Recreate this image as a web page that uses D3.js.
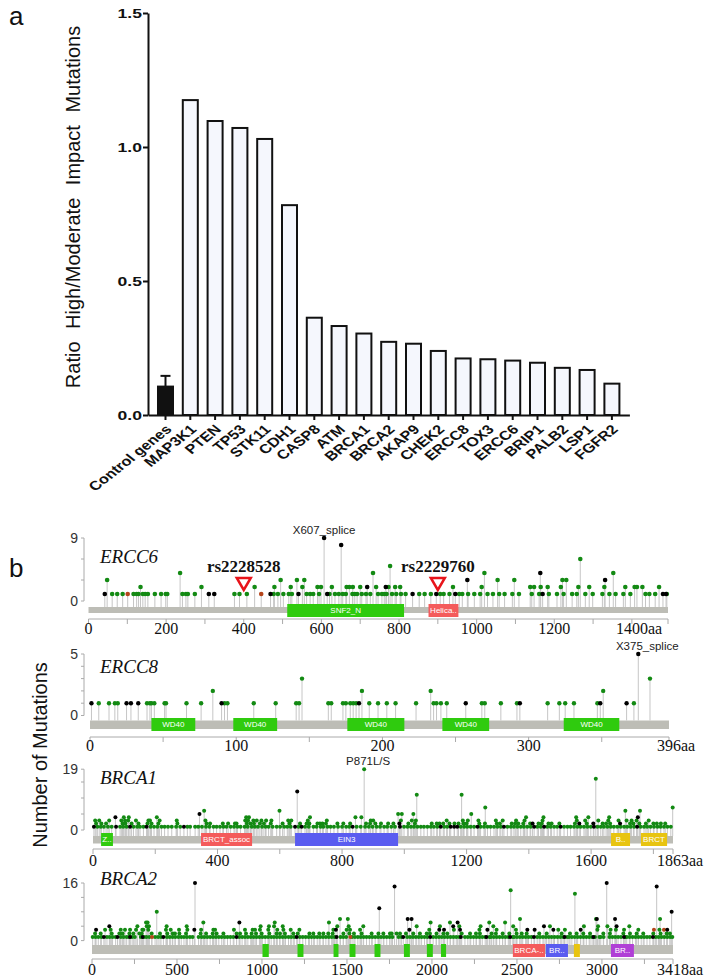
<!DOCTYPE html>
<html><head><meta charset="utf-8">
<script src="https://cdn.jsdelivr.net/npm/d3@7"></script>
<style>body{margin:0;background:#fff}svg{display:block}</style>
</head><body>
<svg id="c" width="708" height="979"></svg>
<script>
// ---------------- DATA: panel a ----------------
const barGenes = ["Control genes","MAP3K1","PTEN","TP53","STK11","CDH1","CASP8","ATM","BRCA1","BRCA2","AKAP9","CHEK2","ERCC8","TOX3","ERCC6","BRIP1","PALB2","LSP1","FGFR2"];
const barValues = [0.106,1.175,1.097,1.071,1.030,0.783,0.363,0.332,0.304,0.273,0.266,0.239,0.211,0.208,0.203,0.195,0.176,0.168,0.117];
const controlUpper = 0.146;
const barYTicks = [0,0.5,1.0,1.5];

// ---------------- DATA: panel b ----------------
const ERCC6_missense = [[48,3],[61,1],[74,1],[88,1],[116,1],[124,1],[129,1],[134,2],[140,1],[146,1],[153,1],[171,1],[187,1],[199,1],[203,1],[236,4],[242,1],[251,1],[256,1],[274,1],[291,2],[376,1],[389,1],[408,1],[428,2],[477,1],[479,2],[488,1],[495,3],[502,1],[516,1],[521,2],[524,1],[537,3],[551,2],[556,3],[562,1],[571,1],[579,1],[590,2],[594,1],[599,2],[621,1],[627,2],[635,1],[645,1],[655,1],[663,1],[665,2],[672,2],[680,1],[681,2],[686,1],[692,1],[700,2],[704,1],[715,1],[726,1],[733,4],[741,2],[746,1],[756,1],[762,1],[768,1],[773,2],[777,5],[782,1],[790,2],[793,1],[803,2],[805,1],[817,1],[852,1],[866,1],[882,1],[906,1],[915,1],[930,1],[939,2],[955,1],[963,1],[978,1],[994,1],[1009,1],[1013,2],[1020,4],[1028,1],[1042,1],[1054,3],[1058,1],[1072,1],[1092,1],[1097,3],[1109,1],[1138,2],[1142,1],[1148,2],[1161,1],[1165,2],[1183,2],[1186,1],[1207,1],[1217,2],[1221,3],[1224,1],[1231,3],[1246,1],[1258,1],[1262,2],[1267,6],[1280,1],[1290,2],[1299,1],[1324,1],[1329,2],[1342,1],[1352,4],[1358,1],[1378,1],[1383,2],[1396,1],[1407,2],[1413,2],[1427,2],[1435,1],[1445,1],[1460,1],[1470,2],[1490,1]];
const ERCC6_truncating = [[42,1],[310,1],[324,1],[469,1],[541,1],[607,9],[615,1],[651,8],[718,2],[766,2],[835,1],[896,1],[945,1],[976,3],[1164,4],[1170,1],[1331,3],[1480,1],[1488,1]];
const ERCC6_other = [[101,1],[445,1]];
const ERCC6_domains = [["SNF2_N",512,813,"g"],["Helica..",876,953,"r"]];
const ERCC6_xLabels = [0,200,400,600,800,1000,1200,1400];
const ERCC6_xMinor = [100,300,500,700,900,1100,1300,1493];

const ERCC8_missense = [[6,1],[13,1],[17,1],[19,1],[39,1],[41,1],[42,1],[44,1],[51,1],[52,1],[66,1],[76,1],[84,2],[92,1],[94,1],[112,1],[127,1],[141,1],[143,1],[145,3],[163,1],[165,1],[173,1],[175,1],[178,1],[180,1],[182,1],[186,2],[191,1],[197,1],[203,1],[209,1],[223,1],[233,2],[235,1],[237,1],[240,1],[244,1],[268,1],[270,1],[281,1],[292,1],[313,1],[321,1],[325,1],[331,1],[347,1],[351,2],[372,1],[383,3]];
const ERCC8_truncating = [[1,1],[25,1],[28,1],[33,1],[90,1],[184,1],[257,1],[294,1],[349,1],[367,1],[375,5]];
const ERCC8_domains = [["WD40",42,72,"g"],["WD40",98,128,"g"],["WD40",176,215,"g"],["WD40",241,273,"g"],["WD40",324,362,"g"]];
const ERCC8_xLabels = [0,100,200,300,396];
const ERCC8_xMinor = [50,150,250,350];

const BRCA1_missense = [[14,1],[25,1],[35,1],[48,1],[60,1],[87,1],[97,1],[108,1],[130,1],[142,1],[151,1],[162,1],[185,1],[196,1],[207,1],[220,1],[230,1],[241,1],[253,1],[267,1],[280,1],[303,1],[312,1],[328,1],[338,1],[350,1],[363,1],[374,1],[387,1],[397,1],[408,1],[419,1],[429,1],[442,1],[453,1],[464,1],[474,1],[487,1],[497,1],[510,1],[520,1],[530,1],[543,1],[554,1],[564,1],[577,1],[590,1],[601,1],[614,1],[624,1],[635,1],[660,1],[681,1],[693,1],[708,1],[718,1],[731,1],[740,1],[753,1],[763,1],[774,1],[787,1],[800,1],[813,1],[823,1],[847,1],[860,1],[874,1],[886,1],[898,1],[911,1],[922,1],[935,1],[945,1],[958,1],[970,1],[999,1],[1010,1],[1021,1],[1031,1],[1042,1],[1053,1],[1063,1],[1074,1],[1085,1],[1095,1],[1106,1],[1128,1],[1138,1],[1181,1],[1192,1],[1202,1],[1213,1],[1224,1],[1245,1],[1256,1],[1267,1],[1277,1],[1288,1],[1299,1],[1310,1],[1331,1],[1342,1],[1352,1],[1363,1],[1374,1],[1384,1],[1395,1],[1406,1],[1427,1],[1438,1],[1459,1],[1470,1],[1481,1],[1491,1],[1513,1],[1524,1],[1534,1],[1545,1],[1556,1],[1566,1],[1577,1],[1588,1],[1599,1],[1620,1],[1631,1],[1641,1],[1652,1],[1663,1],[1673,1],[1684,1],[1695,1],[1706,1],[1716,1],[1727,1],[1738,1],[1759,1],[1770,1],[1780,1],[1791,1],[1802,1],[1813,1],[1823,1],[1834,1],[1845,1],[1856,1],
[10,2],[27,2],[42,2],[95,2],[104,2],[124,2],[146,2],[175,2],[188,2],[210,2],[271,2],[365,2],[376,2],[417,2],[434,2],[456,2],[461,2],[494,2],[506,2],[517,2],[536,2],[549,2],[571,2],[609,2],[631,2],[665,2],[686,2],[695,2],[721,2],[729,2],[737,2],[748,2],[785,2],[804,2],[826,2],[877,2],[890,2],[907,2],[925,2],[948,2],[965,2],[1013,2],[1034,2],[1088,2],[1104,2],[1113,2],[1125,2],[1145,2],[1161,2],[1174,2],[1190,2],[1200,2],[1241,2],[1259,2],[1297,2],[1307,2],[1345,2],[1356,2],[1366,2],[1382,2],[1404,2],[1431,2],[1441,2],[1463,2],[1473,2],[1498,2],[1548,2],[1586,2],[1637,2],[1648,2],[1661,2],[1725,2],[1736,2],[1755,2],[1776,2],[1800,2],[1811,2],[1824,2],[1838,2],
[7,3],[20,3],[52,3],[91,3],[103,3],[113,3],[138,3],[178,3],[183,3],[214,3],[269,3],[361,3],[489,3],[498,3],[515,3],[526,3],[541,3],[556,3],[573,3],[627,3],[637,3],[690,3],[751,3],[892,3],[900,3],[989,3],[1024,3],[1037,3],[1136,3],[1188,3],[1204,3],[1238,3],[1294,3],[1316,3],[1359,3],[1386,3],[1444,3],[1554,3],[1581,3],[1623,3],[1655,3],[1688,3],[1714,3],[1730,3],[1746,3],[1785,3],
[99,4],[115,4],[205,4],[492,4],[501,4],[697,4],[843,4],[862,4],[1391,4],[1447,4],[1552,4],[1591,4],[1658,4],
[980,5],[992,5],[1029,5],[1215,5],[357,6],[599,6],[1710,6],[1757,6],[1260,7],[1862,7],[1040,11],[1184,11],[1615,16],[871,19]];
const BRCA1_truncating = [[3,1],[72,4],[74,1],[119,1],[172,1],[292,1],[342,5],[649,1],[656,12],[670,1],[834,1],[984,2],[986,1],[1117,1],[1149,1],[1160,1],[1170,1],[1235,1],[1320,1],[1412,2],[1417,1],[1449,1],[1502,1],[1562,2],[1607,2],[1609,1],[1693,2],[1748,1],[1750,4]];
const BRCA1_domains = [["Z..",26,64,"g"],["BRCT_assoc",347,511,"r"],["EIN3",649,980,"b"],["B..",1664,1725,"y"],["BRCT",1760,1844,"y"]];
const BRCA1_xLabels = [0,400,800,1200,1600,1863];
const BRCA1_xMinor = [200,600,1000,1400,1800];

const BRCA2_missense = [[4,1],[21,1],[37,1],[55,1],[88,1],[104,1],[121,1],[139,1],[170,1],[186,1],[204,1],[218,1],[236,1],[252,1],[287,1],[305,1],[320,1],[337,1],[371,1],[389,1],[406,1],[441,1],[457,1],[474,1],[490,1],[508,1],[525,1],[541,1],[558,1],[576,1],[592,1],[627,1],[645,1],[661,1],[678,1],[695,1],[712,1],[729,1],[746,1],[763,1],[781,1],[797,1],[814,1],[831,1],[866,1],[883,1],[900,1],[917,1],[934,1],[951,1],[968,1],[985,1],[1002,1],[1019,1],[1036,1],[1054,1],[1070,1],[1087,1],[1104,1],[1121,1],[1138,1],[1156,1],[1172,1],[1190,1],[1223,1],[1240,1],[1257,1],[1274,1],[1291,1],[1308,1],[1325,1],[1342,1],[1359,1],[1376,1],[1393,1],[1410,1],[1427,1],[1462,1],[1478,1],[1495,1],[1530,1],[1547,1],[1564,1],[1581,1],[1598,1],[1615,1],[1632,1],[1649,1],[1666,1],[1683,1],[1700,1],[1717,1],[1734,1],[1751,1],[1768,1],[1803,1],[1820,1],[1854,1],[1871,1],[1888,1],[1905,1],[1922,1],[1939,1],[1956,1],[1973,1],[2007,1],[2024,1],[2041,1],[2058,1],[2075,1],[2092,1],[2109,1],[2126,1],[2143,1],[2160,1],[2194,1],[2211,1],[2228,1],[2245,1],[2262,1],[2279,1],[2296,1],[2313,1],[2338,1],[2347,1],[2364,1],[2381,1],[2398,1],[2415,1],[2432,1],[2449,1],[2476,1],[2483,1],[2500,1],[2517,1],[2534,1],[2551,1],[2568,1],[2585,1],[2619,1],[2636,1],[2653,1],[2670,1],[2687,1],[2704,1],[2721,1],[2738,1],[2755,1],[2772,1],[2795,1],[2806,1],[2823,1],[2840,1],[2857,1],[2874,1],[2891,1],[2908,1],[2925,1],[2942,1],[2959,1],[2985,1],[2993,1],[3010,1],[3044,1],[3061,1],[3078,1],[3095,1],[3112,1],[3140,1],[3146,1],[3163,1],[3180,1],[3197,1],[3214,1],[3231,1],[3248,1],[3265,1],[3282,1],[3316,1],[3333,1],[3350,1],[3367,1],[3384,1],[3401,1],[3414,1],
[18,2],[51,2],[116,2],[161,2],[180,2],[220,2],[243,2],[279,2],[292,2],[351,2],[400,2],[443,2],[475,2],[488,2],[514,2],[553,2],[639,2],[671,2],[710,2],[733,2],[773,2],[851,2],[871,2],[906,2],[939,2],[965,2],[998,2],[1043,2],[1086,2],[1106,2],[1135,2],[1184,2],[1210,2],[1279,2],[1302,2],[1337,2],[1361,2],[1390,2],[1416,2],[1479,2],[1514,2],[1541,2],[1586,2],[1645,2],[1685,2],[1714,2],[1753,2],[1763,2],[1792,2],[1812,2],[1847,2],[1890,2],[1929,2],[1969,2],[1988,2],[2027,2],[2067,2],[2090,2],[2175,2],[2224,2],[2259,2],[2282,2],[2351,2],[2376,2],[2416,2],[2455,2],[2498,2],[2528,2],[2557,2],[2631,2],[2675,2],[2763,2],[2812,2],[2851,2],[2890,2],[2930,2],[3008,2],[3047,2],[3126,2],[3165,2],[3204,2],[3243,2],[3302,2],[3345,2],[3381,2],[3400,2],
[77,3],[110,3],[169,3],[194,3],[224,3],[259,3],[296,3],[302,3],[331,3],[435,3],[463,3],[512,3],[561,3],[642,3],[714,3],[724,3],[835,3],[900,3],[945,3],[959,3],[988,3],[1037,3],[1090,3],[1126,3],[1169,3],[1220,3],[1420,3],[1498,3],[1518,3],[1577,3],[1984,3],[2129,3],[2279,3],[2380,3],[2494,3],[2743,3],[2782,3],[2973,3],[3051,3],[3082,3],[3130,3],[3214,3],[3338,3],
[267,4],[322,4],[335,4],[439,4],[557,4],[992,4],[1041,4],[1071,4],[1122,4],[1443,4],[1510,4],[1596,4],[1910,4],[2047,4],[2161,4],[2286,4],[2361,4],[2478,4],[2694,4],[2894,4],[2977,4],[3032,4],[3161,4],
[318,5],[327,5],[655,5],[1075,5],[1394,5],[1992,5],[2106,5],[2337,5],[2430,5],
[1459,6],[1505,6],[2518,6],[2965,6],[3342,6],[381,8],[2841,13],[2463,14]];
const BRCA2_truncating = [[70,1],[150,1],[224,1],[298,1],[420,1],[850,1],[1204,1],[1439,1],[1831,1],[1990,1],[2170,1],[2320,1],[2460,1],[2600,1],[2780,1],[2950,1],[3130,1],[3300,1],
[24,3],[602,3],[1435,3],[1867,3],[2043,3],[2071,3],[2165,3],[2326,3],[2561,3],[2604,3],[2714,3],[2875,3],[3384,3],
[102,4],[2125,4],[2659,4],[3086,4],[867,5],[2151,5],[1857,6],[1880,6],[2970,6],[3077,6],[1690,9],[3410,8],[1780,15],[3322,15],[606,16],[3028,16]];
const BRCA2_other = [[353,1],[1520,1],[3306,3],[3365,3]];
const BRCA2_domains = [["",1003,1040,"g"],["",1209,1244,"g"],["",1421,1450,"g"],["",1515,1550,"g"],["",1662,1697,"g"],["",1835,1870,"g"],["",1970,2005,"g"],["",2053,2083,"g"],["BRCA-..",2476,2665,"r"],["BR..",2670,2800,"b"],["",2835,2870,"y"],["BR..",3053,3188,"p"]];
const BRCA2_xLabels = [0,500,1000,1500,2000,2500,3000,3418];
const BRCA2_xMinor = [250,750,1250,1750,2250,2750,3250];

// ---------------- STYLE ----------------
const SANS = "'Liberation Sans', Arial, Helvetica, sans-serif";
const SERIF = "'Liberation Serif', 'Times New Roman', serif";
const domColor = {g:"#2fcb0e", r:"#f45b5b", b:"#5a5cf0", y:"#e8c410", p:"#b03fd6"};
const mutColor = {m:"#138a13", t:"#000000", o:"#b5451b"};

const svg = d3.select("#c");

// ================= PANEL a =================
const xA = d3.scaleBand().domain(barGenes).range([148, 629.4]).paddingInner(0.395).paddingOuter(0.403);
const yA = d3.scaleLinear().domain([0, 1.5]).range([415, 13]);
const gA = svg.append("g");

gA.selectAll("rect.bar").data(barGenes).join("rect").attr("class","bar")
  .attr("x", d => xA(d)).attr("width", xA.bandwidth())
  .attr("y", (d,i) => yA(barValues[i])).attr("height", (d,i) => yA(0) - yA(barValues[i]))
  .attr("fill", (d,i) => i === 0 ? "#111" : "#f5f7fd").attr("stroke", "#111").attr("stroke-width", 2);

const cx0 = xA(barGenes[0]) + xA.bandwidth()/2;
gA.append("line").attr("x1", cx0).attr("x2", cx0).attr("y1", yA(barValues[0])).attr("y2", yA(controlUpper)).attr("stroke","#111").attr("stroke-width",2);
gA.append("line").attr("x1", cx0-5).attr("x2", cx0+5).attr("y1", yA(controlUpper)).attr("y2", yA(controlUpper)).attr("stroke","#111").attr("stroke-width",2);

const axLeft = gA.append("g").attr("transform","translate(148,0)")
  .call(d3.axisLeft(yA).tickValues(barYTicks).tickFormat(d3.format(".1f")).tickSize(5).tickSizeOuter(0));
axLeft.select(".domain").attr("stroke","#111").attr("stroke-width",2);
axLeft.selectAll(".tick line").attr("stroke","#111").attr("stroke-width",2);
axLeft.selectAll(".tick text").attr("x",0).attr("transform","translate(-6,0) scale(1.35,1)")
  .attr("font-family",SANS).attr("font-weight","bold").attr("font-size",13).attr("fill","#111");

const axBot = gA.append("g").attr("transform","translate(0,415)")
  .call(d3.axisBottom(xA).tickSize(5).tickSizeOuter(0));
axBot.select(".domain").attr("stroke","#111").attr("stroke-width",2);
axBot.selectAll(".tick line").attr("stroke","#111").attr("stroke-width",2);
axBot.selectAll(".tick text").attr("x",0).attr("y",0).attr("dy","0.35em").attr("text-anchor","end")
  .attr("transform","translate(3,12) scale(1.25,1) rotate(-45)")
  .attr("font-family",SANS).attr("font-weight","bold").attr("font-size",13).attr("fill","#111");

svg.append("text").attr("transform","translate(80,207) rotate(-90)").attr("text-anchor","middle")
  .attr("font-family",SANS).attr("font-size",20).attr("word-spacing",7).attr("fill","#111")
  .text("Ratio High/Moderate Impact Mutations");

svg.append("text").attr("x",9).attr("y",25).attr("font-family",SANS).attr("font-size",26).attr("fill","#111").text("a");
svg.append("text").attr("x",9).attr("y",577).attr("font-family",SANS).attr("font-size",26).attr("fill","#111").text("b");

svg.append("text").attr("transform","translate(47,755) rotate(-90)").attr("text-anchor","middle")
  .attr("font-family",SANS).attr("font-size",20).attr("fill","#111").text("Number of Mutations");

// ================= PANEL b =================
function drawPanel(p) {
  const g = svg.append("g");
  const x = d3.scaleLinear().domain([0, p.len]).range([p.x0, p.x1]);
  const y = d3.scaleLinear().domain([0, p.yMax]).range([p.base, p.base - p.k * p.yMax]);

  g.append("text").attr("x", 100).attr("y", p.nameY).attr("font-family", SERIF).attr("font-style","italic")
    .attr("font-size", 19).attr("fill","#111").text(p.name);

  g.append("line").attr("x1",84).attr("x2",84).attr("y1",y(0)).attr("y2",y(p.yMax)).attr("stroke","#aaa");
  g.selectAll("line.yt").data(p.yTicks).join("line").attr("class","yt")
    .attr("x1",81).attr("x2",84).attr("y1",d=>y(d)).attr("y2",d=>y(d)).attr("stroke","#aaa");
  g.selectAll("text.yl").data([0, p.yMax]).join("text").attr("class","yl")
    .attr("x",78).attr("y",d=>y(d)).attr("dy","0.35em").attr("text-anchor","end")
    .attr("font-family",SANS).attr("font-size",14).attr("fill","#333").text(d=>d);

  g.append("rect").attr("x",x(0)).attr("width",x(p.len)-x(0)).attr("y",p.barTop).attr("height",p.barH).attr("fill","#bdbdb6");

  const muts = [];
  (p.missense||[]).forEach(d => muts.push({pos:d[0], n:d[1], t:"m"}));
  (p.other||[]).forEach(d => muts.push({pos:d[0], n:d[1], t:"o"}));
  (p.truncating||[]).forEach(d => muts.push({pos:d[0], n:d[1], t:"t"}));

  g.selectAll("line.stem").data(muts).join("line").attr("class","stem")
    .attr("x1",d=>x(d.pos)).attr("x2",d=>x(d.pos)).attr("y1",p.barTop).attr("y2",d=>y(d.n))
    .attr("stroke","#c6c6c6").attr("stroke-width",1);

  p.domains.forEach(d => {
    g.append("rect").attr("x",x(d[1])).attr("width",x(d[2])-x(d[1])).attr("y",p.domTop).attr("height",p.domH)
      .attr("fill",domColor[d[3]]);
    if (d[0]) g.append("text").attr("x",(x(d[1])+x(d[2]))/2).attr("y",p.domTop+p.domH/2).attr("dy","0.35em")
      .attr("text-anchor","middle").attr("font-family",SANS).attr("font-size",8).attr("fill","#fff").text(d[0]);
  });

  g.selectAll("circle.mut").data(muts).join("circle").attr("class","mut")
    .attr("cx",d=>x(d.pos)).attr("cy",d=>y(d.n)).attr("r",p.r)
    .attr("fill",d=>mutColor[d.t]);

  g.append("line").attr("x1",x(0)).attr("x2",x(p.len)).attr("y1",p.axisY).attr("y2",p.axisY).attr("stroke","#aaa");
  g.selectAll("line.xt").data(p.xLabels.concat(p.xMinor)).join("line").attr("class","xt")
    .attr("x1",d=>x(d)).attr("x2",d=>x(d)).attr("y1",p.axisY).attr("y2",p.axisY+5).attr("stroke","#aaa");
  p.xLabels.forEach((v,i) => {
    const last = i === p.xLabels.length - 1;
    const t = g.append("text").attr("y",p.labelY).attr("font-family",SERIF).attr("font-size",16).attr("fill","#111");
    if (!last) { t.attr("x",x(v)).attr("text-anchor","middle").text(v); }
    else {
      t.attr("x",x(v)).attr("text-anchor","start").text(v);
      const w = t.node().getComputedTextLength();
      t.attr("x", x(v) - w/2).text(v + "aa");
    }
  });

  if (p.annot) {
    const a = muts.find(d => d.pos === p.annot[0]);
    g.append("text").attr("x",x(a.pos) + p.annot[2]).attr("y",y(a.n) - 4).attr("text-anchor","middle")
      .attr("font-family",SANS).attr("font-size",11.5).attr("fill","#222").text(p.annot[1]);
  }
  return {x, y, g};
}

const pE6 = drawPanel({name:"ERCC6", len:1493, x0:88.5, x1:668, base:601, k:7.0, yMax:9, yTicks:[0,3,6,9],
  barTop:607, barH:6, domTop:604, domH:13, axisY:619, labelY:634, nameY:563, r:2.3,
  missense:ERCC6_missense, truncating:ERCC6_truncating, other:ERCC6_other, domains:ERCC6_domains,
  xLabels:ERCC6_xLabels, xMinor:ERCC6_xMinor, annot:[607,"X607_splice",0]});

const rsMarkers = [["rs2228528",400],["rs2229760",900]];
rsMarkers.forEach(m => {
  const cx = pE6.x(m[1]);
  pE6.g.append("path").attr("d",`M${cx-7},${578}L${cx+7},${578}L${cx},${590}Z`)
    .attr("fill","#fff").attr("stroke","#e8141b").attr("stroke-width",2.5);
  pE6.g.append("text").attr("x",cx).attr("y",572).attr("text-anchor","middle").attr("font-family",SERIF)
    .attr("font-weight","bold").attr("font-size",17).attr("fill","#111").text(m[0]);
});

drawPanel({name:"ERCC8", len:396, x0:90, x1:669, base:715.5, k:12.3, yMax:5, yTicks:[0,1,2,3,4,5],
  barTop:720.5, barH:8.5, domTop:718, domH:13, axisY:737, labelY:751, nameY:673, r:2.2,
  missense:ERCC8_missense, truncating:ERCC8_truncating, domains:ERCC8_domains,
  xLabels:ERCC8_xLabels, xMinor:ERCC8_xMinor, annot:[375,"X375_splice",9]});

drawPanel({name:"BRCA1", len:1863, x0:93, x1:673, base:830, k:3.2, yMax:19, yTicks:[0,5,10,15,19],
  barTop:836, barH:7.5, domTop:833, domH:13, axisY:849, labelY:866, nameY:784, r:2,
  missense:BRCA1_missense, truncating:BRCA1_truncating, domains:BRCA1_domains,
  xLabels:BRCA1_xLabels, xMinor:BRCA1_xMinor, annot:[871,"P871L/S",4]});

drawPanel({name:"BRCA2", len:3418, x0:92, x1:673, base:940.6, k:3.6, yMax:16, yTicks:[0,4,8,12,16],
  barTop:945, barH:9, domTop:944, domH:13, axisY:959, labelY:975, nameY:885, r:2,
  missense:BRCA2_missense, truncating:BRCA2_truncating, other:BRCA2_other, domains:BRCA2_domains,
  xLabels:BRCA2_xLabels, xMinor:BRCA2_xMinor});
</script>
</body></html>
